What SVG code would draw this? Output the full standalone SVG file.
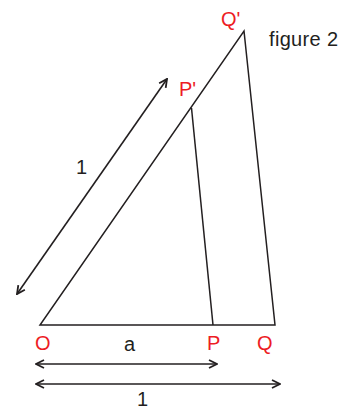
<svg xmlns="http://www.w3.org/2000/svg" width="341" height="406" viewBox="0 0 341 406">
<style>
.ln{stroke:#231f20;stroke-width:1.5;fill:none}
.ar{stroke:#231f20;stroke-width:1.6;fill:none}
.red{fill:#ed1c24;font-family:"Liberation Sans",Arial,sans-serif;font-size:20px}
.blk{fill:#231f20;font-family:"Liberation Sans",Arial,sans-serif;font-size:20px}
</style>
<defs>
<marker id="ah" viewBox="0 0 10 10" refX="9" refY="5" markerWidth="10" markerHeight="10" markerUnits="userSpaceOnUse" orient="auto-start-reverse">
<path d="M1,1 L9,5 L1,9" stroke="#231f20" stroke-width="1.8" fill="none"/>
</marker>
</defs>
<g id="triangle">
<path class="ln" d="M40,325 L275,325 L244,31 Z"/>
</g>
<g id="segment-PP">
<line class="ln" x1="213" y1="325" x2="191.5" y2="108"/>
</g>
<g id="connectors">
<line class="ar" x1="17" y1="294" x2="167" y2="79" marker-start="url(#ah)" marker-end="url(#ah)"/>
<line class="ar" x1="36" y1="364" x2="217" y2="364" marker-start="url(#ah)" marker-end="url(#ah)"/>
<line class="ar" x1="36" y1="384" x2="280" y2="384" marker-start="url(#ah)" marker-end="url(#ah)"/>
</g>
<g id="labels">
<text class="red" x="35" y="350">O</text>
<text class="red" x="207" y="350">P</text>
<text class="red" x="257" y="350">Q</text>
<text class="red" x="179" y="96">P'</text>
<text class="red" x="221" y="26">Q'</text>
<text class="blk" x="124" y="351">a</text>
<text class="blk" x="137" y="406">1</text>
<text class="blk" x="76" y="174">1</text>
<text class="blk" x="269" y="46" font-size="19" textLength="69" lengthAdjust="spacing">figure 2</text>
</g>
</svg>
